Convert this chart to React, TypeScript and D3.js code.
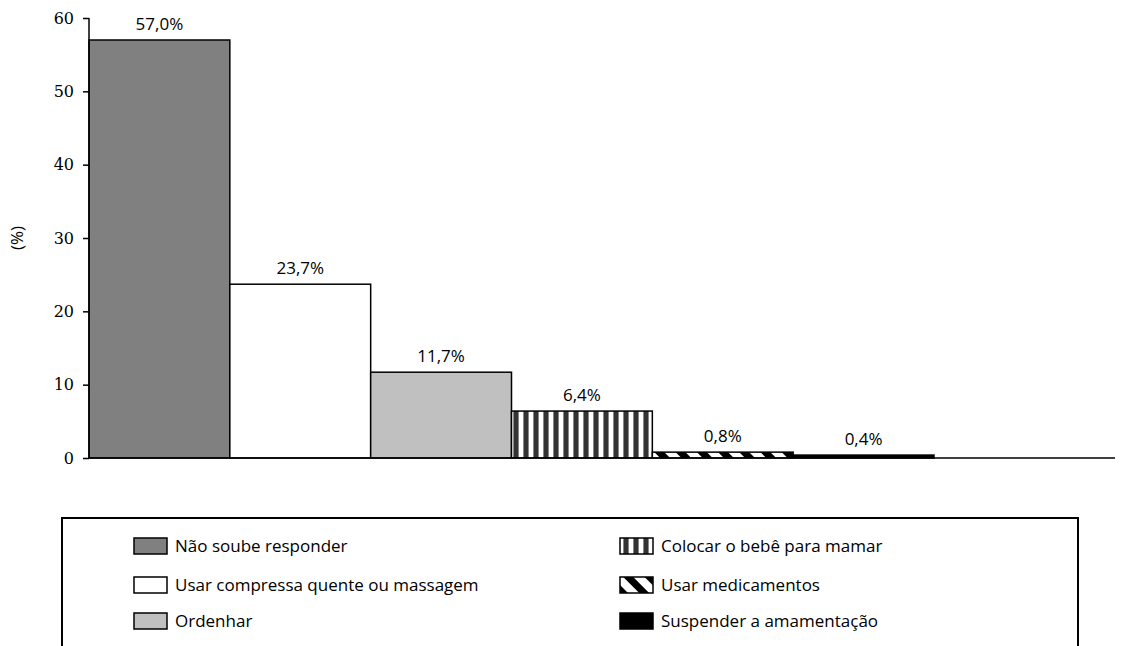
import React, { useEffect, useRef } from 'react';
import * as d3 from 'd3';

const categories = [
  'Não soube responder',
  'Usar compressa quente ou massagem',
  'Ordenhar',
  'Colocar o bebê para mamar',
  'Usar medicamentos',
  'Suspender a amamentação',
];
const values = [57.0, 23.7, 11.7, 6.4, 0.8, 0.4];
const valueLabels = ['57,0%', '23,7%', '11,7%', '6,4%', '0,8%', '0,4%'];
const fills = ['#808080', '#ffffff', '#c0c0c0', 'url(#stripes)', 'url(#diag)', '#000000'];
const yTicks = [0, 10, 20, 30, 40, 50, 60];

const W = 1127;
const H = 646;
const SANS = '"Open Sans", "Noto Sans", sans-serif';
const SERIF = '"DejaVu Serif", "Liberation Serif", serif';

export default function App() {
  const svgRef = useRef<SVGSVGElement>(null);

  useEffect(() => {
    if (!svgRef.current) return;
    const svg = d3.select(svgRef.current);
    svg.selectAll('*').remove();

    const left = 89;
    const top = 18;
    const bottom = 458;
    const axisEnd = 1115;

    // patterns
    const defs = svg.append('defs');
    const stripes = defs
      .append('pattern')
      .attr('id', 'stripes')
      .attr('patternUnits', 'userSpaceOnUse')
      .attr('width', 10)
      .attr('height', 10)
      .attr('x', 511);
    stripes.append('rect').attr('width', 10).attr('height', 10).attr('fill', '#fff');
    stripes.append('rect').attr('x', 2).attr('width', 1).attr('height', 10).attr('fill', '#888');
    stripes.append('rect').attr('x', 3).attr('width', 4).attr('height', 10).attr('fill', '#333');
    stripes.append('rect').attr('x', 7).attr('width', 1).attr('height', 10).attr('fill', '#888');

    const diag = defs
      .append('pattern')
      .attr('id', 'diag')
      .attr('patternUnits', 'userSpaceOnUse')
      .attr('width', 15)
      .attr('height', 15)
      .attr('patternTransform', 'rotate(45)');
    diag.append('rect').attr('width', 15).attr('height', 15).attr('fill', '#fff');
    diag.append('rect').attr('y', 0).attr('width', 15).attr('height', 7).attr('fill', '#000');

    const x = d3.scaleBand<string>().domain(categories).range([left, 934]).padding(0);
    const y = d3.scaleLinear().domain([0, 60]).range([bottom, top]);

    const g = svg.append('g');

    // bars
    g.selectAll('rect.bar')
      .data(categories)
      .enter()
      .append('rect')
      .attr('class', 'bar')
      .attr('x', (d) => x(d)!)
      .attr('y', (d, i) => y(values[i]))
      .attr('width', x.bandwidth())
      .attr('height', (d, i) => y(0) - y(values[i]))
      .attr('fill', (d, i) => fills[i])
      .attr('stroke', '#000')
      .attr('stroke-width', 1.5);

    // value labels
    g.selectAll('text.val')
      .data(categories)
      .enter()
      .append('text')
      .attr('x', (d) => x(d)! + x.bandwidth() / 2)
      .attr('y', (d, i) => y(values[i]) - 10)
      .attr('text-anchor', 'middle')
      .attr('font-family', SANS)
      .attr('font-size', 17)
      .attr('fill', '#000')
      .text((d, i) => valueLabels[i]);

    // y axis
    const yAxis = g
      .append('g')
      .attr('transform', `translate(${left},0)`)
      .call(d3.axisLeft(y).tickValues(yTicks).tickSize(6).tickPadding(9).tickFormat((d) => `${d}`));
    yAxis.select('.domain').attr('stroke', '#000').attr('stroke-width', 1.5).attr('d', `M0,${top}V${bottom}`);
    yAxis.selectAll('.tick line').attr('stroke', '#000').attr('stroke-width', 1.5);
    yAxis
      .selectAll('.tick text')
      .attr('font-family', SERIF)
      .attr('font-size', 16)
      .attr('fill', '#000');

    // x axis line
    g.append('line')
      .attr('x1', left)
      .attr('x2', axisEnd)
      .attr('y1', bottom)
      .attr('y2', bottom)
      .attr('stroke', '#000')
      .attr('stroke-width', 1.5);

    // y title
    g.append('text')
      .attr('transform', `translate(23,${(top + bottom) / 2}) rotate(-90)`)
      .attr('text-anchor', 'middle')
      .attr('font-family', SANS)
      .attr('font-size', 17)
      .text('(%)');

    // legend box
    g.append('rect')
      .attr('x', 62)
      .attr('y', 518)
      .attr('width', 1016)
      .attr('height', 140)
      .attr('fill', 'none')
      .attr('stroke', '#000')
      .attr('stroke-width', 2);

    const cols = [134, 620];
    const rows = [546, 585, 621];
    categories.forEach((c, i) => {
      const cx = cols[Math.floor(i / 3)];
      const cy = rows[i % 3];
      const item = g.append('g').attr('transform', `translate(${cx},${cy})`);
      item
        .append('rect')
        .attr('x', 0)
        .attr('y', -8)
        .attr('width', 33)
        .attr('height', 16)
        .attr('fill', fills[i])
        .attr('stroke', '#000')
        .attr('stroke-width', 1.5);
      item
        .append('text')
        .attr('x', 41)
        .attr('y', 6)
        .attr('font-family', SANS)
        .attr('font-size', 17)
        .attr('fill', '#000')
        .text(c);
    });
  }, []);

  return (
    <svg
      ref={svgRef}
      width={W}
      height={H}
      style={{ position: 'absolute', left: 0, top: 0, background: '#fff' }}
    />
  );
}
